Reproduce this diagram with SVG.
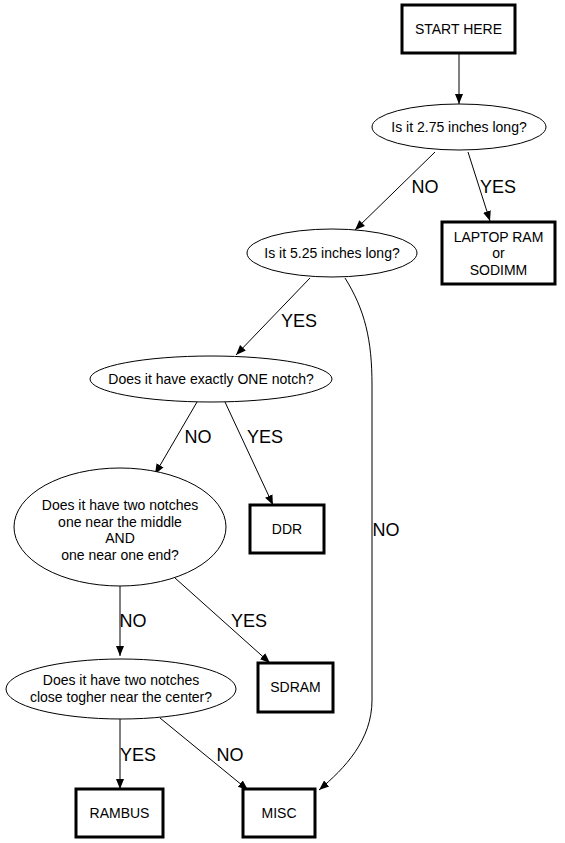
<svg xmlns="http://www.w3.org/2000/svg" width="565" height="843" viewBox="0 0 565 843">
<defs>
<marker id="ah" markerWidth="10" markerHeight="10" refX="10" refY="5" orient="auto" markerUnits="userSpaceOnUse">
<path d="M0,1 L10,5 L0,9 Z" fill="#000"/>
</marker>
<style>
.box{fill:#fff;stroke:#000;stroke-width:3}
.ell{fill:#fff;stroke:#000;stroke-width:1}
.t{font-family:"Liberation Sans",Arial,sans-serif;font-size:14px;text-anchor:middle;fill:#000}
.lbl{font-family:"Liberation Sans",Arial,sans-serif;font-size:18px;text-anchor:middle;fill:#000}
.e{fill:none;stroke:#000;stroke-width:1;marker-end:url(#ah)}
</style>
</defs>
<rect width="565" height="843" fill="#fff"/>
<g id="edges">
<path class="e" d="M459,53 L459,104"/>
<path class="e" d="M435,152 L355,230"/>
<path class="e" d="M468,152 L490,221"/>
<path class="e" d="M310,278 L236,355"/>
<path class="e" d="M345,278 C365,310 372,340 372,385 L372,700 C372,740 345,768 319,790"/>
<path class="e" d="M197,402 L155,474"/>
<path class="e" d="M225,402 L273,505"/>
<path class="e" d="M120,586 L120,656"/>
<path class="e" d="M175,578 L270,663"/>
<path class="e" d="M120,719 L120,789"/>
<path class="e" d="M160,718 L248,790"/>
<text class="lbl" x="425" y="193">NO</text>
<text class="lbl" x="498" y="193">YES</text>
<text class="lbl" x="299" y="327">YES</text>
<text class="lbl" x="198" y="443">NO</text>
<text class="lbl" x="265" y="443">YES</text>
<text class="lbl" x="386" y="536">NO</text>
<text class="lbl" x="133" y="627">NO</text>
<text class="lbl" x="249" y="627">YES</text>
<text class="lbl" x="138" y="761">YES</text>
<text class="lbl" x="230" y="761">NO</text>
</g>
<g id="start">
<rect class="box" x="402" y="5" width="113" height="48"/>
<text class="t" x="458.5" y="34">START HERE</text>
</g>
<g id="q275">
<ellipse class="ell" cx="459" cy="127" rx="87" ry="23"/>
<text class="t" x="459" y="132">Is it 2.75 inches long?</text>
</g>
<g id="q525">
<ellipse class="ell" cx="332" cy="253" rx="85" ry="24"/>
<text class="t" x="332" y="258">Is it 5.25 inches long?</text>
</g>
<g id="laptop">
<rect class="box" x="442" y="222" width="113" height="62"/>
<text class="t" x="498.5" y="242">LAPTOP RAM</text>
<text class="t" x="498.5" y="258">or</text>
<text class="t" x="498.5" y="275">SODIMM</text>
</g>
<g id="qone">
<ellipse class="ell" cx="211" cy="379" rx="121" ry="23"/>
<text class="t" x="211" y="384">Does it have exactly ONE notch?</text>
</g>
<g id="qtwo">
<ellipse class="ell" cx="120" cy="527" rx="106" ry="59"/>
<text class="t" x="120" y="510">Does it have two notches</text>
<text class="t" x="120" y="527">one near the middle</text>
<text class="t" x="120" y="543">AND</text>
<text class="t" x="120" y="560">one near one end?</text>
</g>
<g id="ddr">
<rect class="box" x="250" y="505" width="74" height="48"/>
<text class="t" x="287" y="534">DDR</text>
</g>
<g id="sdram">
<rect class="box" x="258" y="663" width="75" height="49"/>
<text class="t" x="295.5" y="692">SDRAM</text>
</g>
<g id="qclose">
<ellipse class="ell" cx="121" cy="689" rx="115" ry="30"/>
<text class="t" x="121" y="685">Does it have two notches</text>
<text class="t" x="121" y="702">close togher near the center?</text>
</g>
<g id="rambus">
<rect class="box" x="76" y="789" width="87" height="48"/>
<text class="t" x="119.5" y="818">RAMBUS</text>
</g>
<g id="misc">
<rect class="box" x="243" y="789" width="72" height="48"/>
<text class="t" x="279" y="818">MISC</text>
</g>
</svg>
